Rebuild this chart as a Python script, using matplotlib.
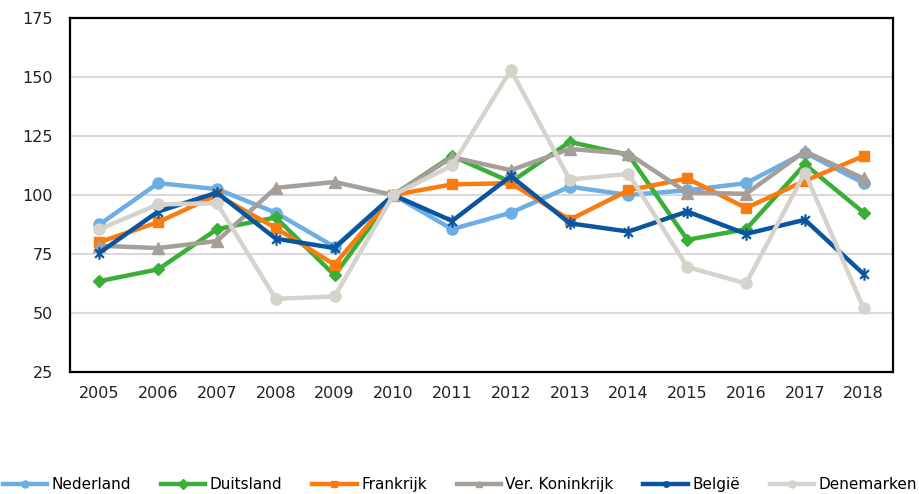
import matplotlib.pyplot as plt
from matplotlib import font_manager
from matplotlib.path import Path
import numpy as np

years = [str(y) for y in range(2005, 2019)]

nederland = [87.5, 105, 102.5, 92.5, 78, 100, 85.5, 92.5, 103.5, 100, 102, 105, 118, 105]
duitsland = [63.5, 68.5, 85.5, 90.5, 66, 100, 116.5, 105.5, 122.5, 117, 81, 85.5, 113, 92.5]
frankrijk = [80, 88.5, 100, 86, 70.5, 100, 104.5, 105, 89.5, 102, 107, 94.5, 106, 116.5]
ver_koninkrijk = [78.5, 77.5, 80.5, 103, 105.5, 100, 116, 110.5, 119.5, 117.5, 101, 100.5, 118.5, 107]
belgie = [75.5, 93, 101, 81.5, 77.5, 100, 89, 108, 88, 84.5, 93, 83.5, 89.5, 66.5]
denemarken = [85.5, 96, 96.5, 56, 57, 100, 112.5, 153, 106.5, 109, 69.5, 62.5, 109.5, 52]

# excel-like asterisk: X plus a vertical bar
star = Path([(0, -1), (0, 1), (-0.7, -0.7), (0.7, 0.7), (-0.7, 0.7), (0.7, -0.7)],
            [Path.MOVETO, Path.LINETO] * 3)

series = [
    ("Nederland", nederland, "#6DAEE4", "o", 8),
    ("Duitsland", duitsland, "#3BAE37", "D", 6),
    ("Frankrijk", frankrijk, "#FA7B10", "s", 7.5),
    ("Ver. Koninkrijk", ver_koninkrijk, "#A59E99", "^", 8),
    ("België", belgie, "#0B55A0", star, 9),
    ("Denemarken", denemarken, "#D5D3CB", "o", 8),
]

names = {f.name for f in font_manager.fontManager.ttflist}
if "DejaVu Sans Condensed" in names:
    legend_family = ["DejaVu Sans Condensed", "DejaVu Sans"]
else:
    legend_family = ["DejaVu Sans"]

fig = plt.figure(figsize=(9.2, 4.94), dpi=100)
ax = fig.add_axes([0.0761, 0.247, 0.8946, 0.7166])

x = np.arange(len(years))
for label, vals, color, marker, ms in series:
    ax.plot(x, vals, color=color, lw=3.2, marker=marker, markersize=ms,
            markeredgewidth=1.6 if marker is star else 1, markeredgecolor=color,
            label=label, solid_joinstyle="round")

ax.set_xlim(-0.5, len(years) - 0.5)
ax.set_ylim(25, 175)
ax.set_yticks(range(25, 176, 25))
ax.set_xticks(x)
ax.set_xticklabels(years)
ax.tick_params(axis="both", length=0, labelsize=11.5, colors="#222222")
ax.tick_params(axis="y", pad=12.5)
ax.tick_params(axis="x", pad=10)
ax.grid(axis="y", color="#D9D9D9", lw=1.5)
ax.set_axisbelow(True)
for sp in ax.spines.values():
    sp.set_linewidth(1.6)
    sp.set_color("black")

leg = fig.legend(loc="lower center", bbox_to_anchor=(0.5, -0.024), ncol=6,
                 frameon=False, handlelength=2.9, handletextpad=0.3,
                 columnspacing=1.95, prop={"family": legend_family, "size": 11})
for h in leg.legend_handles:
    h.set_markersize(5)

fig.savefig("out.png", dpi=100)
